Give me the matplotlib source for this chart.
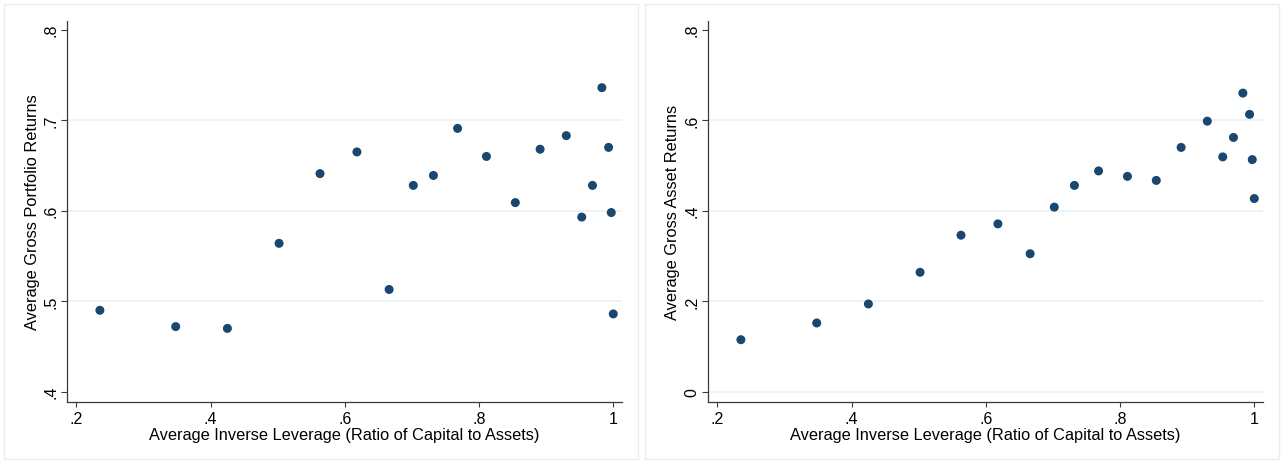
import matplotlib
matplotlib.use("Agg")
import matplotlib.pyplot as plt
from matplotlib.patches import Rectangle

plt.rcParams['font.family'] = ['Liberation Sans', 'DejaVu Sans']

# average inverse leverage (capital / assets) per bin
inv_leverage = [0.235, 0.348, 0.425, 0.502, 0.563, 0.618, 0.666, 0.702, 0.732, 0.768,
                0.811, 0.854, 0.891, 0.930, 0.953, 0.969, 0.983, 0.993, 0.997, 1.000]
# average gross portfolio returns
portfolio_ret = [0.490, 0.472, 0.470, 0.564, 0.641, 0.665, 0.513, 0.628, 0.639, 0.691,
                 0.660, 0.609, 0.668, 0.683, 0.593, 0.628, 0.736, 0.670, 0.598, 0.486]
# average gross asset returns
asset_ret = [0.115, 0.152, 0.194, 0.264, 0.346, 0.371, 0.305, 0.408, 0.456, 0.488,
             0.476, 0.467, 0.540, 0.598, 0.519, 0.562, 0.660, 0.613, 0.513, 0.427]

x_ticks = [0.2, 0.4, 0.6, 0.8, 1.0]
x_tick_labels = ['.2', '.4', '.6', '.8', '1']
xlabel = 'Average Inverse Leverage (Ratio of Capital to Assets)'

navy = '#1a476f'
grid_col = '#eaf2f3'
W, H = 1283, 464

fig = plt.figure(figsize=(W / 100, H / 100), dpi=100)
fig.patch.set_facecolor('white')

# light frames around each graph region
for x0, x1 in [(4, 638), (645, 1279)]:
    fig.patches.append(Rectangle((x0 / W, 4 / H), (x1 - x0) / W, (459 - 4) / H,
                                 transform=fig.transFigure, fill=False,
                                 edgecolor='#e8eef0', lw=1.0))

panels = [
    dict(left=67, y=portfolio_ret, ylim=(0.389, 0.810),
         yticks=[0.4, 0.5, 0.6, 0.7, 0.8], ylabels=['.4', '.5', '.6', '.7', '.8'],
         grid=[0.5, 0.6, 0.7], ylabel='Average Gross Portfolio Returns'),
    dict(left=708, y=asset_ret, ylim=(-0.022, 0.820),
         yticks=[0, 0.2, 0.4, 0.6, 0.8], ylabels=['0', '.2', '.4', '.6', '.8'],
         grid=[0, 0.2, 0.4, 0.6], ylabel='Average Gross Asset Returns'),
]

for p in panels:
    ax = fig.add_axes([p['left'] / W, 1 - 402.7 / H, 555 / W, (402.7 - 21.7) / H])
    for g in p['grid']:
        ax.axhline(g, color=grid_col, lw=1.3, zorder=0)
    ax.scatter(inv_leverage, p['y'], s=42, color=navy, edgecolors='none', zorder=3)
    ax.set_xlim(0.186, 1.013)
    ax.set_ylim(*p['ylim'])
    ax.set_xticks(x_ticks)
    ax.set_xticklabels(x_tick_labels)
    ax.set_yticks(p['yticks'])
    ax.set_yticklabels(p['ylabels'], rotation=90, va='center')
    for side in ['top', 'right']:
        ax.spines[side].set_visible(False)
    for side in ['left', 'bottom']:
        ax.spines[side].set_color('#3a3a3a')
        ax.spines[side].set_linewidth(0.9)
    ax.tick_params(axis='x', length=3.5, width=0.8, color='#3a3a3a', labelsize=11.5, pad=3)
    ax.tick_params(axis='y', length=4, width=0.8, color='#3a3a3a', labelsize=11.5, pad=2)
    ax.set_xlabel(xlabel, fontsize=11.8, labelpad=1)
    ax.set_ylabel(p['ylabel'], fontsize=11.8, labelpad=3)

fig.savefig('out.png', dpi=100)
